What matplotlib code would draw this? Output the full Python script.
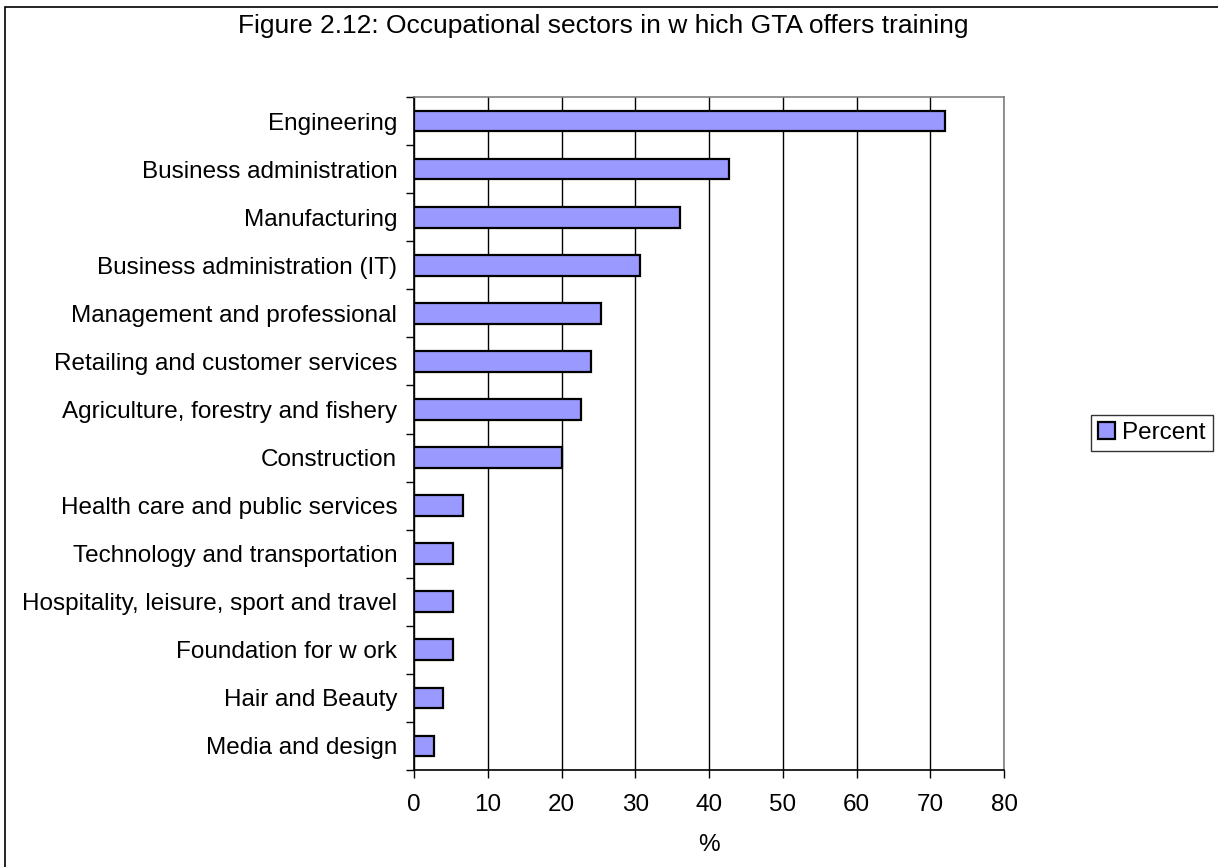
import matplotlib.pyplot as plt
from matplotlib.patches import Rectangle

plt.rcParams.update({
    'font.family': ['Liberation Sans', 'DejaVu Sans'],
    'font.size': 17,
})

# Sectors, top to bottom, and share of providers offering training (%)
sectors = [
    'Engineering',
    'Business administration',
    'Manufacturing',
    'Business administration (IT)',
    'Management and professional',
    'Retailing and customer services',
    'Agriculture, forestry and fishery',
    'Construction',
    'Health care and public services',
    'Technology and transportation',
    'Hospitality, leisure, sport and travel',
    'Foundation for w ork',
    'Hair and Beauty',
    'Media and design',
]
percent = [72.0, 42.7, 36.0, 30.7, 25.3, 24.0, 22.7, 20.0, 6.7, 5.3, 5.3, 5.3, 4.0, 2.7]
x_ticks = [0, 10, 20, 30, 40, 50, 60, 70, 80]

W, H = 1218, 867
fig = plt.figure(figsize=(W / 100, H / 100), dpi=100, facecolor='white')

# chart frame (left and top edges visible)
fig.patches.append(Rectangle((5 / W, -0.1), 1.2, (H - 2) / H + 0.1 - 5 / H,
                             transform=fig.transFigure, fill=False,
                             edgecolor='black', linewidth=1.2))

left, right, top, bottom = 414, 1004, 97, 770
ax = fig.add_axes([left / W, 1 - bottom / H, (right - left) / W, (bottom - top) / H])

y = list(range(len(sectors)))
ax.barh(y, percent, height=0.43, color='#9999ff', edgecolor='black',
        linewidth=1.6, zorder=3, label='Percent')

ax.set_xlim(0, 80)
ax.set_ylim(len(sectors) - 0.5, -0.5)
ax.set_xticks(x_ticks)
ax.set_xticklabels([str(t) for t in x_ticks], fontsize=17.5)
ax.tick_params(axis='x', direction='out', length=6, width=1, pad=11)

ax.set_yticks(y)
ax.set_yticklabels(sectors, fontsize=17.5)
ax.tick_params(axis='y', length=0, pad=12)
# category separators drawn as outside ticks
ax.set_yticks([i - 0.5 for i in range(len(sectors) + 1)], minor=True)
ax.tick_params(axis='y', which='minor', direction='out', length=6, width=1)

ax.grid(axis='x', color='black', linewidth=1, zorder=0)
for s in ['top', 'right']:
    ax.spines[s].set_color('#808080')
    ax.spines[s].set_linewidth(1.2)
for s in ['left', 'bottom']:
    ax.spines[s].set_color('black')
    ax.spines[s].set_linewidth(1.2)

ax.set_xlabel('%', fontsize=17.5, labelpad=13)

fig.text(603 / W, 1 - 26 / H,
         'Figure 2.12: Occupational sectors in w hich GTA offers training',
         ha='center', va='center', fontsize=19)

leg = fig.legend(loc='center', bbox_to_anchor=(1152 / W, 1 - 433 / H),
                 fontsize=17.5, frameon=True, fancybox=False,
                 handlelength=0.7, handleheight=0.7, handletextpad=0.3,
                 borderpad=0.3, borderaxespad=0)
leg.get_frame().set_edgecolor('black')
leg.get_frame().set_linewidth(1)

plt.savefig('out.png', dpi=100, facecolor='white')
